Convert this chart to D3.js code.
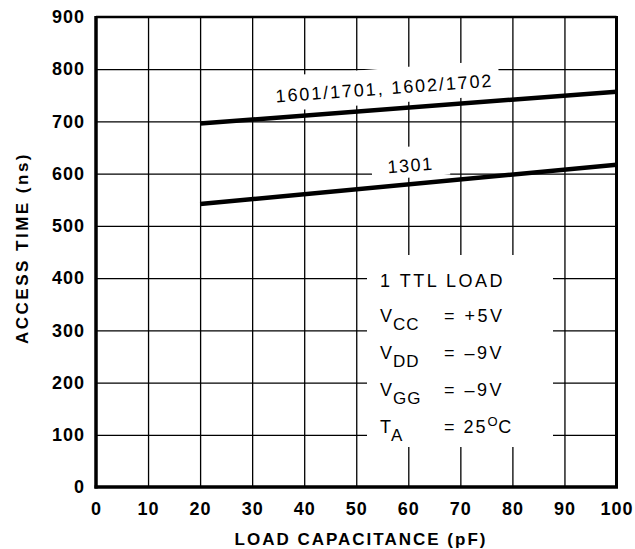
<!DOCTYPE html>
<html>
<head>
<meta charset="utf-8">
<script src="https://cdn.jsdelivr.net/npm/d3@7"></script>
<style>
  body { margin: 0; background: #fff; }
  svg { display: block; font-family: "Liberation Sans", Arial, Helvetica, sans-serif; }
</style>
</head>
<body>
<div id="chart"></div>
<script>
// values
const capacitance = [20, 100];                 // pF
const access1601 = [696, 757];                 // ns, 1601/1701, 1602/1702
const access1301 = [542, 617];                 // ns, 1301
const xTicks = [0, 10, 20, 30, 40, 50, 60, 70, 80, 90, 100];
const yTicks = [0, 100, 200, 300, 400, 500, 600, 700, 800, 900];
const conditions = [
  { main: "V", sub: "CC", val: "= +5V" },
  { main: "V", sub: "DD", val: "= \u20139V" },
  { main: "V", sub: "GG", val: "= \u20139V" }
];

const width = 635, height = 549;
const mLeft = 96, mRight = 616.5, mTop = 17, mBottom = 487;

const x = d3.scaleLinear().domain([0, 100]).range([mLeft, mRight]);
const y = d3.scaleLinear().domain([0, 900]).range([mBottom, mTop]);

const svg = d3.select("#chart").append("svg")
    .attr("width", width)
    .attr("height", height);

// grid
svg.append("g")
   .attr("transform", `translate(0,${mBottom})`)
   .call(d3.axisBottom(x).tickValues(xTicks.slice(1, -1)).tickSize(-(mBottom - mTop)).tickFormat(""))
   .call(g => g.select(".domain").remove())
   .selectAll("line").attr("stroke", "#000").attr("stroke-width", 1.3);

svg.append("g")
   .attr("transform", `translate(${mLeft},0)`)
   .call(d3.axisLeft(y).tickValues(yTicks.slice(1, -1)).tickSize(-(mRight - mLeft)).tickFormat(""))
   .call(g => g.select(".domain").remove())
   .selectAll("line").attr("stroke", "#000").attr("stroke-width", 1.3);

// frame
svg.append("line").attr("x1", mLeft).attr("x2", mRight).attr("y1", mTop).attr("y2", mTop)
   .attr("stroke", "#000").attr("stroke-width", 2.5);
svg.append("line").attr("x1", mRight).attr("x2", mRight).attr("y1", mTop - 1).attr("y2", mBottom)
   .attr("stroke", "#000").attr("stroke-width", 3);
svg.append("line").attr("x1", mLeft).attr("x2", mLeft).attr("y1", mTop - 1).attr("y2", mBottom + 1.5)
   .attr("stroke", "#000").attr("stroke-width", 3.5);
svg.append("line").attr("x1", mLeft - 1.5).attr("x2", mRight + 1.5).attr("y1", mBottom).attr("y2", mBottom)
   .attr("stroke", "#000").attr("stroke-width", 3.5);

// tick labels
const xAxis = svg.append("g")
   .attr("transform", `translate(0,${mBottom})`)
   .call(d3.axisBottom(x).tickValues(xTicks).tickSize(0).tickPadding(15));
xAxis.select(".domain").remove();
xAxis.selectAll("text")
   .attr("font-family", "'Liberation Sans', Arial, sans-serif")
   .attr("font-size", 18).attr("font-weight", "bold").attr("fill", "#000")
   .attr("letter-spacing", 1);

const yAxis = svg.append("g")
   .attr("transform", `translate(${mLeft},0)`)
   .call(d3.axisLeft(y).tickValues(yTicks).tickSize(0).tickPadding(11));
yAxis.select(".domain").remove();
yAxis.selectAll("text")
   .attr("font-family", "'Liberation Sans', Arial, sans-serif")
   .attr("font-size", 18).attr("font-weight", "bold").attr("fill", "#000")
   .attr("letter-spacing", 1);

// axis titles
svg.append("text")
   .attr("x", 361).attr("y", 545)
   .attr("text-anchor", "middle")
   .attr("font-size", 17).attr("font-weight", "bold").attr("letter-spacing", 2)
   .text("LOAD CAPACITANCE (pF)");

svg.append("text")
   .attr("transform", "translate(28,248) rotate(-90)")
   .attr("text-anchor", "middle")
   .attr("font-size", 17).attr("font-weight", "bold").attr("letter-spacing", 2.5)
   .text("ACCESS TIME (ns)");

// curve labels with white knock-out behind
function curveLabel(txt, cx, cy, angle, spacing, padT, padB, padX) {
  const g = svg.append("g").attr("transform", `translate(${cx},${cy}) rotate(${angle})`);
  const bg = g.append("rect").attr("fill", "#fff");
  const t = g.append("text")
     .attr("text-anchor", "middle")
     .attr("font-size", 18).attr("letter-spacing", spacing)
     .text(txt);
  const b = t.node().getBBox();
  bg.attr("x", b.x - padX).attr("y", b.y - padT)
    .attr("width", b.width + 2 * padX).attr("height", b.height + padT + padB);
}

curveLabel("1601/1701, 1602/1702", x(55.5), 94.5, -4.2, 1.9, 10, 5, 6);
curveLabel("1301", x(60.5), 171.5, -4.5, 1.5, 9, 2, 16);

// curves
const line = d3.line().x(d => x(d[0])).y(d => y(d[1]));
[access1601, access1301].forEach(vals => {
  svg.append("path")
     .datum(capacitance.map((c, i) => [c, vals[i]]))
     .attr("d", line)
     .attr("fill", "none")
     .attr("stroke", "#000")
     .attr("stroke-width", 4.5);
});

// conditions box
svg.append("rect")
   .attr("x", 367).attr("y", 255).attr("width", 186).attr("height", 192)
   .attr("fill", "#fff");

const bx = 380, rowY = [287, 322, 359, 396, 433];
svg.append("text").attr("x", bx).attr("y", rowY[0])
   .attr("font-size", 18).attr("letter-spacing", 2.5)
   .text("1 TTL LOAD");

conditions.forEach((c, i) => {
  const t = svg.append("text").attr("x", bx).attr("y", rowY[i + 1])
     .attr("font-size", 18).attr("letter-spacing", 1);
  t.append("tspan").text(c.main);
  t.append("tspan").attr("dy", 8).attr("font-size", 17).text(c.sub);
  svg.append("text").attr("x", 444).attr("y", rowY[i + 1])
     .attr("font-size", 18).attr("letter-spacing", 2.5)
     .text(c.val);
});

const ta = svg.append("text").attr("x", bx).attr("y", rowY[4])
   .attr("font-size", 18);
ta.append("tspan").text("T");
ta.append("tspan").attr("dy", 8).attr("font-size", 17).text("A");

const tv = svg.append("text").attr("x", 444).attr("y", rowY[4])
   .attr("font-size", 18).attr("letter-spacing", 2);
tv.append("tspan").text("= 25");
tv.append("tspan").attr("dy", -7).attr("font-size", 13).attr("letter-spacing", 0.5).text("O");
tv.append("tspan").attr("dy", 7).text("C");
</script>
</body>
</html>
